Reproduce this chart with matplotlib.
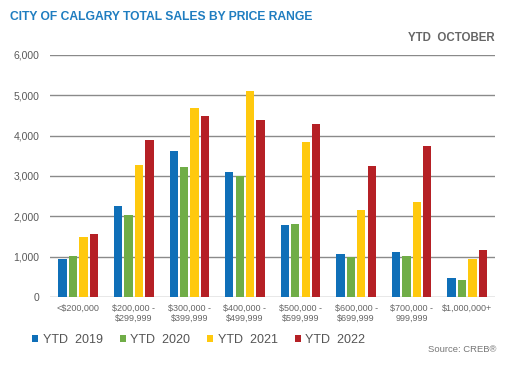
import matplotlib
matplotlib.use("Agg")
import matplotlib.pyplot as plt
import numpy as np

plt.rcParams['font.family'] = ['Liberation Sans', 'DejaVu Sans']

categories = ["<$200,000", "$200,000 -\n$299,999", "$300,000 -\n$399,999",
              "$400,000 -\n$499,999", "$500,000 -\n$599,999", "$600,000 -\n$699,999",
              "$700,000 -\n999,999", "$1,000,000+"]
series_names = ["YTD  2019", "YTD  2020", "YTD  2021", "YTD  2022"]
ytd_2019 = [950, 2248, 3628, 3091, 1793, 1058, 1116, 471]
ytd_2020 = [1025, 2041, 3223, 3008, 1818, 983, 1017, 421]
ytd_2021 = [1479, 3264, 4686, 5116, 3835, 2157, 2364, 942]
ytd_2022 = [1570, 3901, 4496, 4397, 4281, 3256, 3744, 1165]
y_ticks = [0, 1000, 2000, 3000, 4000, 5000, 6000]
colors = ["#0F6FB8", "#70AD47", "#FFC90E", "#B52025"]

fig = plt.figure(figsize=(5.2, 3.83), dpi=100)
ax = fig.add_axes([0.097, 0.2245, 0.855, 0.632])

x = np.arange(len(categories))
width = 0.15
step = 0.1875
for i, (vals, name, c) in enumerate(zip([ytd_2019, ytd_2020, ytd_2021, ytd_2022], series_names, colors)):
    ax.bar(x + (i - 1.5) * step, vals, width=width, color=c, label=name, zorder=3)

ax.set_xlim(-0.5, len(categories) - 0.5)
ax.set_ylim(0, 6000)
ax.set_yticks(y_ticks)
ax.set_yticklabels([f"{v:,}" for v in y_ticks])
ax.yaxis.grid(True, color="#8a8a8a", linewidth=1.0, zorder=0)
ax.set_axisbelow(True)
for s in ax.spines.values():
    s.set_visible(False)
ax.tick_params(axis='y', length=0, labelsize=7.5, labelcolor="#595959", pad=8)
ax.set_xticks(x)
ax.set_xticklabels(categories, fontsize=6.5, color="#666666", linespacing=1.15)
ax.tick_params(axis='x', length=0, pad=5)

fig.text(0.019, 0.955, "CITY OF CALGARY TOTAL SALES BY PRICE RANGE", color="#1F7DC0",
         fontsize=8.7, fontweight='bold', va='center', ha='left')
fig.text(0.952, 0.900, "YTD  OCTOBER", color="#666666", fontsize=8.3,
         fontweight='bold', va='center', ha='right')

leg = fig.legend(loc='center left', bbox_to_anchor=(0.062, 0.112), ncol=4, frameon=False,
                 fontsize=9, handlelength=0.5, handleheight=0.5, handletextpad=0.35,
                 columnspacing=1.35, labelcolor="#555555", borderaxespad=0, borderpad=0)

fig.text(0.955, 0.087, "Source: CREB\u00ae", color="#777777", fontsize=6.8,
         va='center', ha='right')

fig.savefig("out.png", dpi=100)
